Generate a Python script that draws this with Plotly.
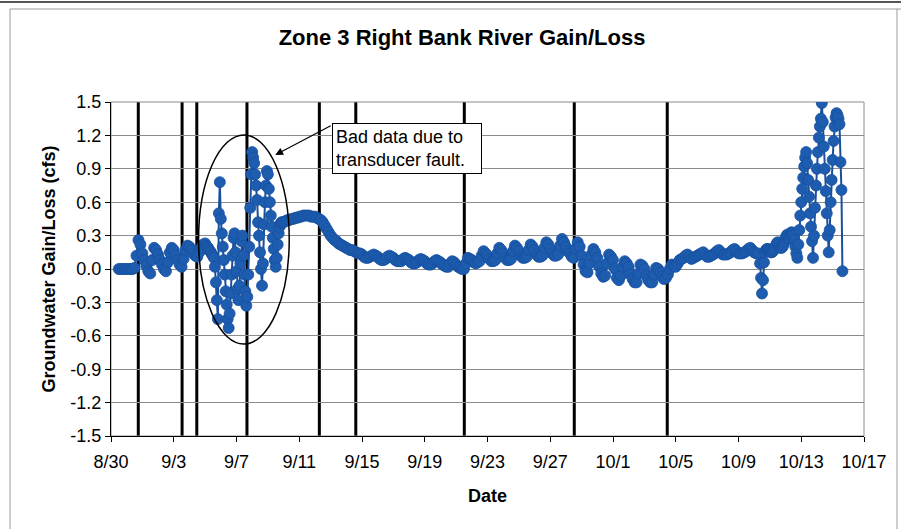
import pandas as pd
import plotly.graph_objects as go

# ---- groundwater gain/loss readings (cfs), grouped by logging interval ----
seg_a_start, seg_a_step = "2004-08-30 12:00", "3h"
seg_a = [0.00, 0.00, 0.00, 0.00, 0.00, 0.00, 0.00, 0.00, 0.01,
         0.12, 0.26, 0.22, 0.14, 0.08, 0.03, -0.02, -0.04,
         0.08, 0.19, 0.17, 0.13, 0.08, 0.04, 0.00, -0.02,
         0.06, 0.15, 0.19, 0.17, 0.12, 0.08, 0.04, 0.02,
         0.09, 0.17, 0.21, 0.20, 0.17, 0.14, 0.12, 0.11,
         0.15, 0.19, 0.22, 0.23]

# transducer fault period, 90-minute readings
seg_b_start, seg_b_step = "2004-09-05 01:30", "90min"
seg_b = [0.21, 0.20, 0.19, 0.17, 0.16, 0.15, 0.13, 0.12, 0.10,
         0.02, -0.12, -0.28, -0.45, 0.50, 0.78, 0.45, 0.32, 0.20, 0.08,
         -0.05, -0.20, -0.32, -0.45, -0.53, -0.40, -0.22, -0.05, 0.12, 0.28,
         0.32, 0.15, -0.02, -0.18, -0.28, -0.15, 0.05, 0.25, 0.30, 0.12,
         -0.05, -0.20, -0.33, -0.25, -0.05, 0.20, 0.55, 0.85, 1.05, 1.00,
         0.95, 0.85, 0.75, 0.62, 0.42, 0.30, 0.15, 0.00, -0.15, 0.05,
         0.40, 0.60, 0.75, 0.88, 0.85, 0.72, 0.60, 0.48, 0.38, 0.28,
         0.18, 0.08, 0.02, 0.10, 0.22, 0.32, 0.38, 0.41, 0.42, 0.42]

seg_c_start, seg_c_step = "2004-09-10 00:00", "3h"
seg_c = [
    0.42, 0.43, 0.44, 0.44, 0.45, 0.45, 0.46, 0.46,
    0.47, 0.47, 0.48, 0.48, 0.48, 0.48, 0.47, 0.47,
    0.47, 0.46, 0.45, 0.44, 0.42, 0.39, 0.36, 0.33,
    0.30, 0.28, 0.26, 0.25, 0.23, 0.22, 0.21, 0.20,
    0.19, 0.18, 0.17, 0.17, 0.16, 0.15, 0.14, 0.14,
    0.13, 0.11, 0.10, 0.10, 0.11, 0.12, 0.13, 0.12,
    0.11, 0.09, 0.08, 0.08, 0.09, 0.11, 0.12, 0.11,
    0.10, 0.08, 0.07, 0.07, 0.07, 0.09, 0.10, 0.09,
    0.08, 0.06, 0.05, 0.05, 0.06, 0.08, 0.09, 0.08,
    0.07, 0.05, 0.04, 0.04, 0.05, 0.07, 0.08, 0.07,
    0.06, 0.04, 0.03, 0.02, 0.02, 0.05, 0.07, 0.06,
    0.04, 0.02, 0.01, 0.00, 0.00, 0.05, 0.10, 0.09,
    0.08, 0.06, 0.05, 0.06, 0.07, 0.12, 0.16, 0.14,
    0.12, 0.09, 0.07, 0.07, 0.08, 0.14, 0.19, 0.17,
    0.14, 0.10, 0.08, 0.08, 0.09, 0.16, 0.21, 0.19,
    0.16, 0.12, 0.10, 0.10, 0.11, 0.17, 0.22, 0.20,
    0.17, 0.13, 0.11, 0.11, 0.12, 0.19, 0.24, 0.22,
    0.18, 0.14, 0.12, 0.12, 0.13, 0.21, 0.27, 0.24,
    0.20, 0.16, 0.14, 0.11, 0.10, 0.18, 0.24, 0.20,
    0.12, 0.04, -0.02, -0.03, 0.05, 0.13, 0.18, 0.15,
    0.10, 0.02, -0.04, -0.07, -0.06, 0.05, 0.13, 0.11,
    0.08, 0.00, -0.08, -0.10, -0.06, 0.02, 0.07, 0.05,
    0.02, -0.05, -0.09, -0.12, -0.12, -0.04, 0.04, 0.03,
    0.00, -0.06, -0.10, -0.12, -0.12, -0.05, 0.01, 0.00,
    -0.03, -0.07, -0.09, -0.08, -0.05, 0.00, 0.04, 0.03,
    0.02, 0.05, 0.08, 0.09, 0.10, 0.12, 0.13, 0.11,
    0.09, 0.10, 0.11, 0.12, 0.13, 0.14, 0.15, 0.13,
    0.11, 0.11, 0.12, 0.13, 0.14, 0.16, 0.17, 0.15,
    0.13, 0.13, 0.13, 0.14, 0.15, 0.17, 0.18, 0.16,
    0.14, 0.14, 0.14, 0.15, 0.16, 0.18, 0.19, 0.17,
    0.15, 0.14, 0.14,
]

# unstable readings at the end of the record, 90-minute readings
seg_d_start, seg_d_step = "2004-10-10 09:00", "90min"
seg_d = [0.05, -0.08, -0.22, -0.10, 0.06, 0.15, 0.17, 0.18, 0.18, 0.17,
         0.16, 0.15, 0.15, 0.16, 0.17, 0.19, 0.21, 0.23, 0.24, 0.22,
         0.20, 0.19, 0.19, 0.20, 0.22, 0.25, 0.28, 0.30, 0.31, 0.29,
         0.27, 0.30, 0.33, 0.32,
         0.30, 0.26, 0.20, 0.14, 0.10, 0.22, 0.35, 0.48, 0.60, 0.72,
         0.82, 0.92, 1.00, 1.05, 0.95, 0.80, 0.65, 0.50, 0.38, 0.25,
         0.10, 0.30, 0.55, 0.75, 0.90, 1.05, 1.18, 1.28, 1.35, 1.49,
         1.32, 1.10, 0.90, 0.70, 0.50, 0.30, 0.15, 0.35, 0.60, 0.80,
         0.98, 1.15, 1.28, 1.36, 1.40, 1.38, 1.35, 1.30, 0.96, 0.71,
         -0.02]

# operational events marked with heavy vertical rules
event_dates = ["2004-08-31 17:45", "2004-09-03 12:45", "2004-09-04 11:15",
               "2004-09-07 16:00", "2004-09-12 06:45", "2004-09-14 14:30",
               "2004-09-21 12:30", "2004-09-28 12:45", "2004-10-04 11:00"]

# axis ticks
x_tick_dates = ["2004-08-30", "2004-09-03", "2004-09-07", "2004-09-11",
                "2004-09-15", "2004-09-19", "2004-09-23", "2004-09-27",
                "2004-10-01", "2004-10-05", "2004-10-09", "2004-10-13",
                "2004-10-17"]
x_tick_text = ["8/30", "9/3", "9/7", "9/11", "9/15", "9/19", "9/23", "9/27",
               "10/1", "10/5", "10/9", "10/13", "10/17"]
y_ticks = [-1.5, -1.2, -0.9, -0.6, -0.3, 0.0, 0.3, 0.6, 0.9, 1.2, 1.5]
y_tick_text = ["-1.5", "-1.2", "-0.9", "-0.6", "-0.3", "0.0", "0.3", "0.6",
               "0.9", "1.2", "1.5"]

# ---- assemble the time series ----
parts = [(seg_a_start, seg_a_step, seg_a), (seg_b_start, seg_b_step, seg_b),
         (seg_c_start, seg_c_step, seg_c), (seg_d_start, seg_d_step, seg_d)]
times, values = [], []
for start, step, vals in parts:
    times.extend(pd.date_range(start, periods=len(vals), freq=step))
    values.extend(vals)

FONT = "Liberation Sans, Arial, sans-serif"
W, H = 901, 529
L, R, T, B = 111, 37, 102, 93
PW, PH = W - L - R, H - T - B


def px_x(p):
    return (p - L) / PW


def px_y(p):
    return (H - B - p) / PH


fig = go.Figure()
fig.add_trace(go.Scatter(
    x=times, y=values, mode="lines+markers",
    line=dict(color="#1a4f9c", width=2),
    marker=dict(size=11, color="#1d5cae", line=dict(color="#17519f", width=0.8)),
    showlegend=False,
))

shapes = []
for d in event_dates:
    shapes.append(dict(type="line", xref="x", yref="paper", x0=d, x1=d,
                       y0=0, y1=1, line=dict(color="black", width=3),
                       layer="between"))
# outline around the suspect readings
shapes.append(dict(type="circle", xref="x", yref="y",
                   x0="2004-09-04 14:00", x1="2004-09-10 08:40",
                   y0=-0.674, y1=1.204, line=dict(color="black", width=1.5)))
# plot-area frame
shapes.append(dict(type="rect", xref="paper", yref="paper", x0=0, x1=1,
                   y0=0, y1=1, line=dict(color="#8c8c8c", width=1),
                   layer="below"))
# chart-area border and page edge
shapes.append(dict(type="line", xref="paper", yref="paper",
                   x0=px_x(0), x1=px_x(W), y0=px_y(2), y1=px_y(2),
                   line=dict(color="#555555", width=2)))
shapes.append(dict(type="line", xref="paper", yref="paper",
                   x0=px_x(10), x1=px_x(W), y0=px_y(9), y1=px_y(9),
                   line=dict(color="#9a9a9a", width=1)))
shapes.append(dict(type="line", xref="paper", yref="paper",
                   x0=px_x(10), x1=px_x(10), y0=px_y(9), y1=px_y(H),
                   line=dict(color="#9a9a9a", width=1)))
shapes.append(dict(type="line", xref="paper", yref="paper",
                   x0=px_x(897), x1=px_x(897), y0=px_y(9), y1=px_y(H),
                   line=dict(color="#9a9a9a", width=1)))

annotations = [
    dict(x="2004-09-09 11:20", y=1.024, xref="x", yref="y",
         ax="2004-09-13 02:25", ay=1.294, axref="x", ayref="y",
         text="", showarrow=True, arrowhead=2, arrowsize=1.3,
         arrowwidth=1.2, arrowcolor="black"),
    dict(x="2004-09-13 02:25", y=1.083, xref="x", yref="y",
         xanchor="left", yanchor="middle", showarrow=False,
         text="Bad data due to<br>transducer fault.", align="left",
         width=142, borderpad=3, bordercolor="black", borderwidth=1,
         bgcolor="white", font=dict(family=FONT, size=18, color="black")),
]

fig.update_layout(
    width=W, height=H,
    margin=dict(l=L, r=R, t=T, b=B),
    paper_bgcolor="white", plot_bgcolor="white",
    font=dict(family=FONT, size=18, color="black"),
    title=dict(text="<b>Zone 3 Right Bank River Gain/Loss</b>",
               x=462 / W, xanchor="center", y=1 - 37 / H, yanchor="middle",
               font=dict(family=FONT, size=22, color="black")),
    shapes=shapes, annotations=annotations,
    xaxis=dict(
        range=["2004-08-30", "2004-10-17"], tickvals=x_tick_dates,
        ticktext=x_tick_text, showgrid=False, zeroline=False,
        showline=True, linecolor="black", linewidth=1,
        ticks="outside", ticklen=5, tickcolor="black",
        ticklabelstandoff=4,
        tickfont=dict(family=FONT, size=18),
        title=dict(text="<b>Date</b>", standoff=18,
                   font=dict(family=FONT, size=18)),
    ),
    yaxis=dict(
        range=[-1.5, 1.5], tickvals=y_ticks, ticktext=y_tick_text,
        showgrid=True, gridcolor="#8c8c8c", gridwidth=1, zeroline=False,
        showline=True, linecolor="black", linewidth=1,
        ticks="outside", ticklen=5, tickcolor="black",
        tickfont=dict(family=FONT, size=18),
        title=dict(text="<b>Groundwater Gain/Loss (cfs)</b>", standoff=10,
                   font=dict(family=FONT, size=18)),
    ),
)

fig.write_html("out.html")
